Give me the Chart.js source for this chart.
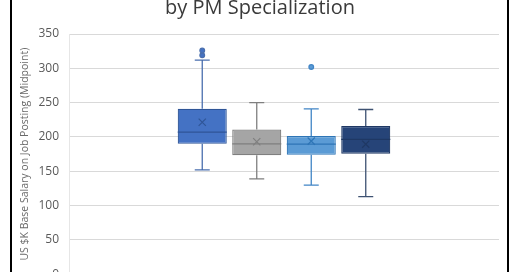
<!DOCTYPE html>
<html>
<head>
<meta charset="utf-8">
<script src="https://cdn.jsdelivr.net/npm/chart.js@4.4.1/dist/chart.umd.min.js"></script>
<style>
  html, body { margin: 0; padding: 0; background: #fff; overflow: hidden; }
  #wrap { position: relative; width: 520px; height: 272px; overflow: hidden; }
  canvas { display: block; }
</style>
</head>
<body>
<div id="wrap"><canvas id="c" width="520" height="300"></canvas></div>
<script>
// Salary distribution (US $K, posting midpoint) per PM specialization
const specializations = ['Specialization 1', 'Specialization 2', 'Specialization 3', 'Specialization 4'];
const lowerWhisker = [152, 139, 130, 113];
const quartile1    = [190, 173.5, 174, 175.5];
const medians      = [207, 190, 189.5, 196.5];
const means        = [221.5, 193, 194, 189.5];
const quartile3    = [241, 211, 201.5, 216];
const upperWhisker = [312, 250, 241, 240];
const outliers     = [[319, 326], [], [302], []];
const yTicks       = [0, 50, 100, 150, 200, 250, 300, 350];

const fills   = ['#4472C4', '#A5A5A5', '#5B9BD5', '#264478'];
const borders = ['#2F5597', '#7F7F7F', '#2E75B6', '#1F3864'];
const whisk   = ['#4A6FAE', '#7F7F7F', '#4185C6', '#3E5272'];

const datasets = specializations.map((name, i) => ({
  label: name,
  data: [[quartile1[i], quartile3[i]]],
  backgroundColor: fills[i],
  borderColor: borders[i],
  borderWidth: 1.2,
  borderSkipped: false,
  categoryPercentage: 0.507,
  barPercentage: 0.9
}));

// Whiskers, medians, mean markers and outliers drawn on top of the quartile bars
const boxExtras = {
  id: 'boxExtras',
  afterDatasetsDraw(chart) {
    const ctx = chart.ctx;
    const y = chart.scales.y;
    chart.data.datasets.forEach((ds, i) => {
      const bar = chart.getDatasetMeta(i).data[0];
      if (!bar) return;
      const cx = bar.x;
      const half = bar.width / 2;
      const cap = 7.5;
      ctx.save();
      ctx.lineWidth = 1.3;
      ctx.strokeStyle = whisk[i];
      const yMax = y.getPixelForValue(upperWhisker[i]);
      const yQ3 = y.getPixelForValue(quartile3[i]);
      const yQ1 = y.getPixelForValue(quartile1[i]);
      const yMin = y.getPixelForValue(lowerWhisker[i]);
      ctx.beginPath();
      ctx.moveTo(cx, yQ3); ctx.lineTo(cx, yMax);
      ctx.moveTo(cx - cap, yMax); ctx.lineTo(cx + cap, yMax);
      ctx.moveTo(cx, yQ1); ctx.lineTo(cx, yMin);
      ctx.moveTo(cx - cap, yMin); ctx.lineTo(cx + cap, yMin);
      ctx.stroke();
      // median
      ctx.strokeStyle = borders[i];
      ctx.lineWidth = 1.2;
      const yMed = y.getPixelForValue(medians[i]);
      ctx.beginPath();
      ctx.moveTo(cx - half, yMed); ctx.lineTo(cx + half, yMed);
      ctx.stroke();
      // mean marker
      const yMean = y.getPixelForValue(means[i]);
      const m = 3.6;
      ctx.beginPath();
      ctx.moveTo(cx - m, yMean - m); ctx.lineTo(cx + m, yMean + m);
      ctx.moveTo(cx + m, yMean - m); ctx.lineTo(cx - m, yMean + m);
      ctx.stroke();
      // outliers
      ctx.lineWidth = 1.3;
      ctx.strokeStyle = whisk[i];
      ctx.fillStyle = fills[i];
      outliers[i].forEach(v => {
        ctx.beginPath();
        ctx.arc(cx, y.getPixelForValue(v), 2.3, 0, Math.PI * 2);
        ctx.fill();
        ctx.stroke();
      });
      ctx.restore();
    });
  }
};

// Center the title on the full canvas width rather than the padded area
const titleSpan = {
  id: 'titleSpan',
  afterLayout(chart) {
    if (chart.titleBlock) {
      chart.titleBlock.left = 0;
      chart.titleBlock.right = chart.width;
      chart.titleBlock.width = chart.width;
    }
  }
};

// Black side rules of the surrounding frame
const frame = {
  id: 'frame',
  afterDraw(chart) {
    const ctx = chart.ctx;
    ctx.save();
    ctx.fillStyle = '#000';
    ctx.fillRect(10, 0, 2, chart.height);
    ctx.fillRect(507, 0, 2, chart.height);
    ctx.restore();
  }
};

new Chart(document.getElementById('c'), {
  type: 'bar',
  data: { labels: ['All postings'], datasets },
  options: {
    responsive: false,
    animation: false,
    devicePixelRatio: 1,
    layout: { padding: { left: 0, right: 21, top: 0, bottom: 25.7 } },
    plugins: {
      legend: { display: false },
      tooltip: { enabled: false },
      title: {
        display: true,
        text: 'by PM Specialization',
        color: '#3A3A3A',
        font: { family: 'Open Sans', size: 20, weight: 'normal', lineHeight: 1 },
        padding: { top: -1.5, bottom: 15.5 }
      }
    },
    scales: {
      x: { display: false },
      y: {
        min: 0,
        max: 350,
        afterFit(scale) { scale.width = 69; },
        afterBuildTicks(scale) { scale.ticks = yTicks.map(v => ({ value: v })); },
        ticks: {
          color: '#595959',
          padding: 10,
          font: { family: 'Open Sans', size: 12 }
        },
        grid: { color: '#D9D9D9', lineWidth: 1, drawTicks: false },
        border: { display: true, color: '#E6E6E6' },
        title: {
          display: true,
          text: 'US $K Base Salary on Job Posting (Midpoint)',
          color: '#6A6A6A',
          font: { family: 'Open Sans', size: 10.5 },
          padding: { top: 19, bottom: 0 }
        }
      }
    }
  },
  plugins: [boxExtras, titleSpan, frame]
});
</script>
</body>
</html>
